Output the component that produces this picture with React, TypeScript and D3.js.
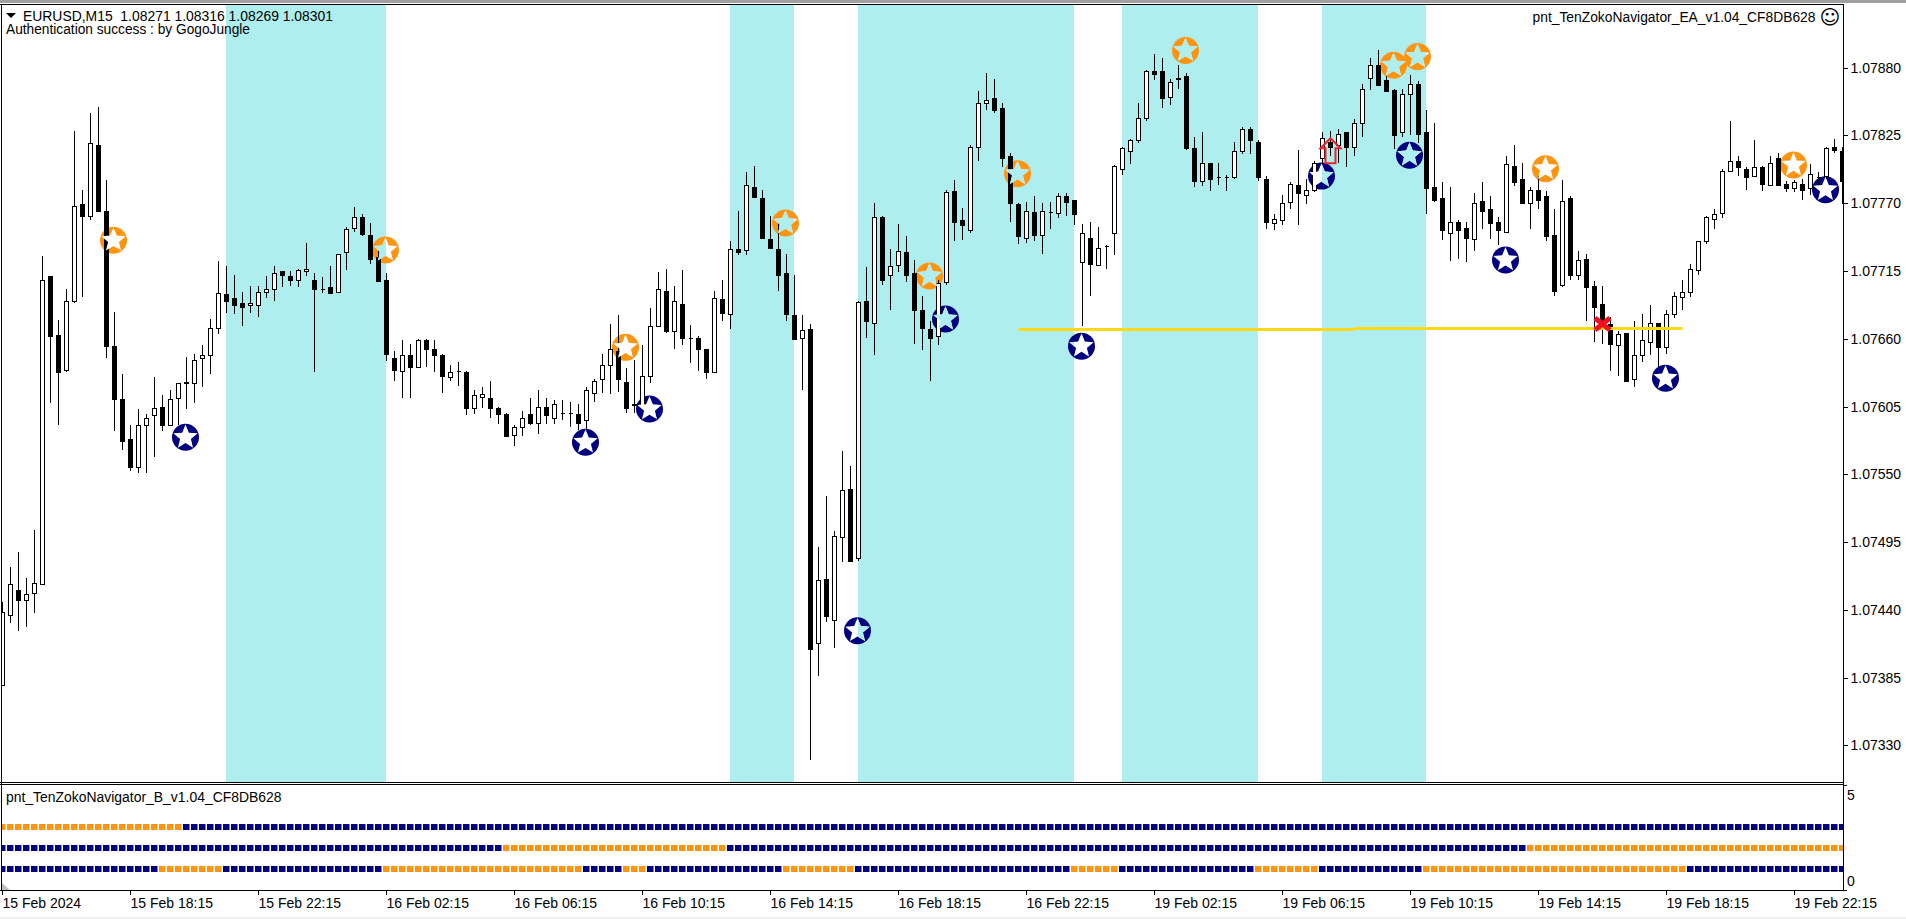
import React from 'react';
import * as d3 from 'd3';

// All prices are in points above 1.07000 (712 = 1.07712)
const PRICE_BASE = 1.07;

const opens = [
  379, 436, 456, 448, 454, 461, 711, 663, 635, 691,
  769, 760, 817, 764, 654, 611, 579, 556, 590, 598,
  605, 590, 612, 624, 624, 644, 647, 669, 696, 693,
  689, 687, 687, 698, 700, 715, 711, 708, 715, 708,
  700, 702, 698, 730, 750, 759, 744, 726, 708, 644,
  634, 647, 637, 659, 652, 647, 629, 634, 633, 604,
  613, 612, 604, 599, 582, 588, 599, 592, 605, 596,
  600, 600, 599, 594, 616, 627, 639, 650, 625, 606,
  606, 630, 670, 699, 666, 688, 661, 661, 652, 633,
  692, 680, 733, 732, 783, 774, 741, 733, 713, 679,
  661, 668, 413, 465, 432, 499, 538, 482, 691, 673,
  759, 712, 720, 730, 713, 683, 668, 662, 706, 780,
  756, 748, 816, 851, 855, 847, 808, 769, 742, 763,
  744, 763, 762, 776, 773, 722, 742, 720, 735, 746,
  798, 812, 821, 839, 877, 877, 856, 871, 873, 815,
  788, 803, 791, 791, 791, 812, 830, 820, 790, 754,
  756, 771, 785, 777, 781, 807, 820, 817, 828, 816,
  835, 872, 882, 870, 862, 828, 859, 867, 828, 783,
  774, 746, 755, 750, 741, 772, 765, 755, 747, 800,
  790, 770, 781, 776, 744, 704, 774, 712, 725, 703,
  688, 672, 655, 665, 627, 647, 657, 673, 653, 680,
  694, 698, 716, 739, 757, 762, 796, 804, 798, 792,
  799, 785, 807, 786, 782, 786, 782, 791, 792, 816, 812,
];

const closes = [
  438, 461, 448, 453, 462, 708, 662, 633, 691, 768,
  760, 819, 764, 654, 611, 577, 556, 590, 596, 604,
  590, 611, 624, 625, 643, 647, 669, 697, 691, 687,
  686, 689, 698, 700, 713, 712, 708, 716, 717, 700,
  700, 697, 729, 749, 759, 745, 725, 707, 648, 635,
  647, 637, 659, 652, 647, 630, 633, 634, 604, 614,
  615, 604, 599, 581, 588, 596, 592, 605, 598, 607,
  600, 600, 592, 618, 626, 639, 652, 627, 604, 607,
  630, 670, 700, 666, 691, 661, 661, 652, 633, 693,
  681, 733, 730, 785, 775, 742, 734, 712, 680, 660,
  667, 408, 464, 435, 500, 537, 480, 690, 674, 759,
  708, 719, 731, 712, 683, 669, 661, 705, 779, 755,
  752, 816, 851, 854, 846, 807, 770, 743, 764, 744,
  764, 763, 776, 771, 761, 746, 721, 734, 735, 800,
  815, 821, 839, 877, 875, 855, 868, 872, 815, 788,
  803, 790, 791, 791, 812, 830, 821, 791, 755, 757,
  770, 786, 778, 781, 803, 823, 816, 826, 816, 835,
  863, 882, 866, 861, 825, 859, 867, 826, 782, 773,
  748, 755, 748, 742, 770, 764, 754, 748, 802, 787,
  770, 781, 773, 743, 699, 772, 712, 724, 702, 686,
  672, 656, 664, 626, 647, 659, 673, 653, 680, 695,
  698, 717, 739, 759, 761, 796, 804, 799, 791, 799,
  786, 803, 785, 782, 787, 781, 794, 791, 815, 813, 788,
];

const highs = [
  446, 475, 487, 466, 505, 727, 711, 675, 700, 829,
  781, 843, 848, 789, 682, 631, 590, 603, 599, 629,
  614, 618, 624, 645, 648, 655, 676, 723, 719, 712,
  698, 703, 703, 711, 719, 715, 715, 717, 738, 713,
  710, 719, 729, 751, 767, 761, 754, 731, 713, 650,
  659, 656, 660, 660, 659, 648, 639, 641, 634, 618,
  621, 626, 605, 600, 590, 601, 612, 618, 612, 610,
  610, 609, 607, 621, 627, 648, 672, 679, 636, 643,
  655, 685, 714, 717, 703, 716, 671, 662, 652, 699,
  708, 739, 764, 795, 800, 781, 760, 756, 729, 712,
  679, 672, 491, 532, 504, 569, 557, 691, 718, 770,
  760, 733, 753, 743, 724, 695, 674, 708, 781, 789,
  766, 817, 861, 876, 871, 851, 811, 770, 771, 776,
  770, 771, 778, 778, 773, 753, 755, 751, 736, 801,
  816, 822, 851, 878, 891, 888, 871, 882, 876, 824,
  828, 803, 803, 793, 820, 832, 832, 821, 792, 761,
  777, 787, 813, 790, 804, 828, 829, 830, 828, 838,
  867, 888, 894, 873, 863, 863, 874, 869, 846, 835,
  787, 783, 756, 755, 778, 787, 776, 759, 808, 817,
  803, 783, 792, 780, 765, 789, 776, 731, 729, 707,
  703, 678, 666, 665, 674, 680, 687, 673, 683, 698,
  708, 721, 739, 760, 765, 798, 837, 808, 799, 821,
  800, 808, 811, 788, 789, 790, 802, 795, 816, 822, 816,
];

const lows = [
  378, 429, 423, 426, 437, 461, 608, 590, 633, 689,
  694, 756, 763, 644, 585, 570, 553, 551, 551, 564,
  585, 590, 590, 603, 608, 621, 631, 664, 681, 680,
  670, 681, 678, 693, 691, 702, 703, 702, 711, 633,
  697, 697, 697, 716, 747, 743, 721, 707, 642, 626,
  612, 612, 637, 637, 633, 616, 626, 622, 598, 599,
  604, 596, 591, 581, 573, 581, 590, 583, 591, 591,
  594, 588, 586, 586, 609, 616, 615, 617, 600, 600,
  604, 624, 670, 665, 652, 655, 640, 634, 627, 632,
  674, 668, 728, 728, 775, 742, 733, 699, 674, 659,
  618, 318, 386, 430, 409, 479, 480, 480, 661, 647,
  704, 683, 714, 706, 656, 651, 626, 655, 704, 739,
  740, 746, 804, 846, 843, 799, 755, 737, 738, 739,
  729, 749, 758, 760, 752, 670, 695, 720, 717, 728,
  793, 802, 819, 837, 870, 847, 850, 863, 813, 783,
  784, 780, 785, 780, 790, 810, 810, 788, 749, 748,
  752, 765, 752, 769, 779, 802, 808, 803, 799, 808,
  824, 862, 865, 860, 814, 824, 825, 819, 761, 771,
  740, 723, 725, 722, 731, 749, 741, 736, 746, 784,
  769, 749, 765, 739, 695, 702, 708, 708, 674, 657,
  656, 634, 630, 626, 621, 641, 647, 637, 648, 677,
  683, 694, 712, 737, 749, 758, 795, 792, 781, 792,
  780, 784, 785, 779, 779, 773, 777, 780, 790, 811, 769,
];

const priceTicks = [880, 825, 770, 715, 660, 605, 550, 495, 440, 385, 330];
const timeLabels = [
  '15 Feb 2024', '15 Feb 18:15', '15 Feb 22:15', '16 Feb 02:15', '16 Feb 06:15',
  '16 Feb 10:15', '16 Feb 14:15', '16 Feb 18:15', '16 Feb 22:15', '19 Feb 02:15',
  '19 Feb 06:15', '19 Feb 10:15', '19 Feb 14:15', '19 Feb 18:15', '19 Feb 22:15',
];
const BARS_PER_LABEL = 16;

// teal session bands, as bar indices
const bandStarts = [28, 91, 107, 140, 165];
const bandEnds = [48, 99, 134, 157, 178];

// signal markers: bar index + price
const sellBars = [14, 48, 78, 98, 116, 127, 148, 174, 177, 193, 224];
const sellPrices = [740, 732, 653, 754, 711, 794, 894, 882, 889, 798, 801];
const buyBars = [23, 73, 81, 118, 107, 135, 165, 176, 188, 208, 228];
const buyPrices = [580, 576, 603, 676, 423, 654, 792, 809, 724, 628, 781];

// yellow line
const lineStarts = [127, 169];
const lineEnds = [169, 210];
const linePrices = [667.5, 668.3];

const arrowBar = 166;
const arrowPrice = 802.5;
const crossBar = 200;
const crossPrice = 672;

// sub window rows: value on the 0..5 scale + runs of orange bars
const rowValues = [3, 2, 1];
const rowOrangeRuns = [
  [[0, 22]],
  [[63, 90], [191, 230]],
  [[20, 27], [48, 72], [78, 80], [98, 106], [134, 139], [157, 164], [178, 210]],
];

const ORANGE = '#ff9411';
const NAVY = '#000080';
const TEAL = '#afeeee';
const FONT = '"Liberation Sans", Arial, sans-serif';
const FRAME_RIGHT = 1843.5;

const x = d3.scaleLinear().domain([0, 230]).range([2.5, 1842.5]);
const y = d3.scaleLinear().domain([880, 330]).range([67.7, 745.3]);
const subY = d3.scaleLinear().domain([0, 5]).range([890, 785]);

const snap = (v: number) => Math.round(v) + 0.5;
const priceLabel = (p: number) => (PRICE_BASE + p / 100000).toFixed(5);

const bodyPath = (i: number) => {
  const p = d3.path();
  const top = snap(y(Math.max(opens[i], closes[i])));
  const bot = snap(y(Math.min(opens[i], closes[i])));
  p.moveTo(x(i) - 2, top);
  p.lineTo(x(i) + 2, top);
  p.lineTo(x(i) + 2, bot);
  p.lineTo(x(i) - 2, bot);
  p.closePath();
  return p.toString();
};

// five pointed star, a bit fatter than d3.symbolStar
const starPath = d3
  .lineRadial<number>()
  .angle((k) => (k * Math.PI) / 5)
  .radius((k) => (k % 2 === 0 ? 12.8 : 5.7))
  .curve(d3.curveLinearClosed)(d3.range(10)) as string;

const arrowPath = (() => {
  const p = d3.path();
  const cx = x(arrowBar);
  const b = y(arrowPrice);
  p.moveTo(cx - 5, b);
  p.lineTo(cx - 5, b - 15);
  p.lineTo(cx - 10, b - 15);
  p.lineTo(cx, b - 25);
  p.lineTo(cx + 10, b - 15);
  p.lineTo(cx + 5, b - 15);
  p.lineTo(cx + 5, b);
  p.closePath();
  return p.toString();
})();

const markers = [
  ...sellBars.map((b, k) => ({ bar: b, price: sellPrices[k], color: ORANGE, dx: -1 })),
  ...buyBars.map((b, k) => ({ bar: b, price: buyPrices[k], color: NAVY, dx: -1 })),
];

const isOrange = (row: number, bar: number) =>
  rowOrangeRuns[row].some(([a, b]) => bar >= a && bar <= b);

export default function App() {
  const bars = d3.range(opens.length);
  const text = { fontFamily: FONT, fontSize: 14, fill: '#000' };
  return (
    <svg
      width={1906}
      height={919}
      style={{ position: 'fixed', left: 0, top: 0, background: '#fff' }}
    >
      <defs>
        <clipPath id="plot">
          <rect x={2} y={5} width={FRAME_RIGHT - 2} height={777} />
        </clipPath>
        <clipPath id="bands">
          {bandStarts.map((s, k) => (
            <rect key={s} x={x(s) - 0.5} y={5} width={x(bandEnds[k]) - x(s)} height={777} />
          ))}
        </clipPath>
        <clipPath id="sub">
          <rect x={2} y={785} width={FRAME_RIGHT - 2} height={105} />
        </clipPath>
      </defs>

      {/* window chrome */}
      <rect x={0} y={0} width={1906} height={3} fill="#a0a0a0" />
      <rect x={0} y={917} width={1906} height={2} fill="#f0f0f0" />

      <g>
        {bandStarts.map((s, k) => (
          <rect key={s} x={x(s) - 0.5} y={5} width={x(bandEnds[k]) - x(s)} height={777} fill={TEAL} />
        ))}
      </g>

      <g clipPath="url(#plot)">
        {markers.map((m) => (
          <circle key={`c${m.bar}-${m.color}`} cx={x(m.bar) + m.dx} cy={y(m.price)} r={13.5} fill={m.color} />
        ))}
        {bars.map((i) => (
          <line
            key={`w${i}`}
            x1={x(i)}
            x2={x(i)}
            y1={Math.round(y(highs[i]))}
            y2={Math.round(y(lows[i]))}
            stroke="#000"
            strokeWidth={1}
            shapeRendering="crispEdges"
          />
        ))}
        {bars.map((i) => (
          <path
            key={`b${i}`}
            d={bodyPath(i)}
            fill={closes[i] >= opens[i] ? '#fff' : '#000'}
            stroke="#000"
            strokeWidth={1}
            shapeRendering="crispEdges"
          />
        ))}
        {lineStarts.map((s, k) => (
          <line
            key={s}
            x1={x(s)}
            x2={x(lineEnds[k])}
            y1={y(linePrices[k])}
            y2={y(linePrices[k])}
            stroke="#ffd816"
            strokeWidth={3}
          />
        ))}
        {markers.map((m) => (
          <g key={`s${m.bar}-${m.color}`}>
            <path d={starPath} transform={`translate(${x(m.bar) + m.dx},${y(m.price)})`} fill="#fff" />
            <g clipPath="url(#bands)">
              <path d={starPath} transform={`translate(${x(m.bar) + m.dx},${y(m.price)})`} fill={TEAL} />
            </g>
          </g>
        ))}
        <path d={arrowPath} fill="none" stroke="#e8242c" strokeWidth={2} />
        <path
          d={`M${x(crossBar) - 7.5},${y(crossPrice) - 6}L${x(crossBar) + 7.5},${y(crossPrice) + 6}M${x(crossBar) + 7.5},${y(crossPrice) - 6}L${x(crossBar) - 7.5},${y(crossPrice) + 6}`}
          stroke="#f01020"
          strokeWidth={5}
          fill="none"
        />
      </g>

      {/* sub window squares */}
      <g clipPath="url(#sub)">
        {rowValues.map((v, r) =>
          bars.map((i) => (
            <rect
              key={`${r}-${i}`}
              x={x(i) - 3.5}
              y={subY(v) - 3}
              width={6.5}
              height={6}
              fill={isOrange(r, i) ? ORANGE : NAVY}
            />
          )),
        )}
      </g>
      <path d="M2,883L10,890L2,890Z" fill="#c0c0c0" />

      {/* frames */}
      <g stroke="#000" strokeWidth={1} fill="none" shapeRendering="crispEdges">
        <line x1={0} x2={FRAME_RIGHT} y1={4.5} y2={4.5} />
        <line x1={1.5} x2={1.5} y1={4} y2={890} />
        <line x1={FRAME_RIGHT} x2={FRAME_RIGHT} y1={4} y2={890} />
        <line x1={0} x2={FRAME_RIGHT} y1={782.5} y2={782.5} />
        <line x1={0} x2={FRAME_RIGHT} y1={784.5} y2={784.5} />
        <line x1={0} x2={FRAME_RIGHT} y1={890.5} y2={890.5} />
        {priceTicks.map((t) => (
          <line key={t} x1={FRAME_RIGHT} x2={FRAME_RIGHT + 4} y1={snap(y(t))} y2={snap(y(t))} />
        ))}
        {[0, 5].map((v) => (
          <line key={v} x1={FRAME_RIGHT} x2={FRAME_RIGHT + 3} y1={subY(v) + 0.5} y2={subY(v) + 0.5} />
        ))}
        {timeLabels.map((t, k) => (
          <line key={t} x1={x(k * BARS_PER_LABEL)} x2={x(k * BARS_PER_LABEL)} y1={890} y2={895} />
        ))}
      </g>

      {/* price axis */}
      {priceTicks.map((t) => (
        <text key={t} x={1850.5} y={y(t) + 5} {...text}>
          {priceLabel(t)}
        </text>
      ))}
      <text x={1847} y={800} {...text}>5</text>
      <text x={1847} y={886} {...text}>0</text>

      {/* time axis */}
      {timeLabels.map((t, k) => (
        <text key={t} x={x(k * BARS_PER_LABEL)} y={908} {...text}>
          {t}
        </text>
      ))}

      {/* header texts */}
      <path d="M6,13L16,13L11,18Z" fill="#000" />
      <text x={23} y={21} {...text} xmlSpace="preserve" textLength={310} lengthAdjust="spacingAndGlyphs">
        EURUSD,M15  1.08271 1.08316 1.08269 1.08301
      </text>
      <text x={6} y={33.5} {...text} textLength={244} lengthAdjust="spacingAndGlyphs">
        Authentication success : by GogoJungle
      </text>
      <text x={1532.5} y={22} {...text} textLength={283} lengthAdjust="spacingAndGlyphs">
        pnt_TenZokoNavigator_EA_v1.04_CF8DB628
      </text>
      <text x={1830} y={24} textAnchor="middle" fontFamily="DejaVu Sans" fontSize={20} fill="#000">☺</text>
      <text x={6} y={802} {...text} textLength={275.5} lengthAdjust="spacingAndGlyphs">
        pnt_TenZokoNavigator_B_v1.04_CF8DB628
      </text>
    </svg>
  );
}
